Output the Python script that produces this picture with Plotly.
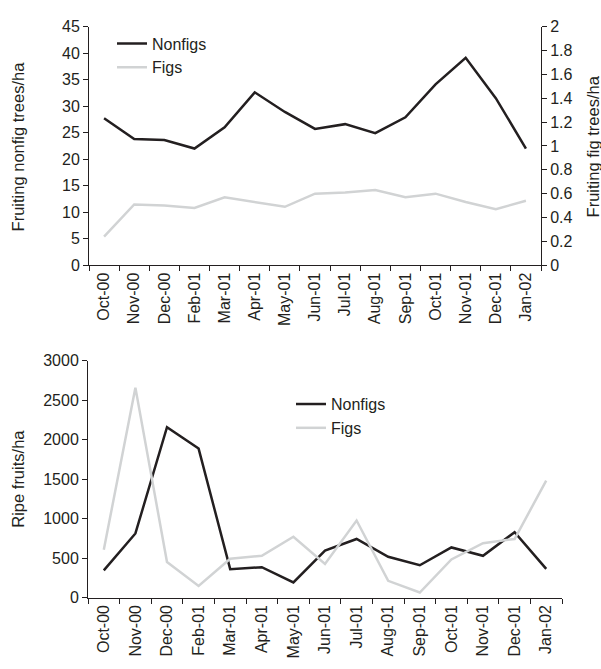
import plotly.graph_objects as go

# Sampling months
months = ["Oct-00", "Nov-00", "Dec-00", "Feb-01", "Mar-01", "Apr-01", "May-01",
          "Jun-01", "Jul-01", "Aug-01", "Sep-01", "Oct-01", "Nov-01", "Dec-01", "Jan-02"]

# Fruiting trees per hectare
trees_nonfig = [27.7, 23.8, 23.6, 22.0, 26.0, 32.6, 28.9, 25.7, 26.6, 24.9, 27.9, 34.1, 39.1, 31.5, 22.0]
trees_fig = [0.24, 0.51, 0.50, 0.48, 0.57, 0.53, 0.49, 0.60, 0.61, 0.63, 0.57, 0.60, 0.53, 0.47, 0.54]

# Ripe fruits per hectare
fruits_nonfig = [345, 813, 2159, 1888, 361, 386, 192, 595, 743, 517, 410, 636, 530, 829, 365]
fruits_fig = [607, 2660, 451, 148, 493, 530, 771, 426, 977, 213, 65, 484, 690, 743, 1482]

W, H = 601, 669
DARK = "#231f20"
LIGHT = "#d1d3d4"
FONT = "Liberation Sans, Arial, sans-serif"
FS_TICK = 16
FS_TITLE = 16.5
FS_LEG = 16


def px_x(v):
    return v / W


def px_y(v):
    return 1 - v / H


fig = go.Figure()

fig.add_trace(go.Scatter(x=months, y=trees_nonfig, name="Nonfigs", mode="lines",
                         line=dict(color=DARK, width=2.5), xaxis="x", yaxis="y",
                         legend="legend"))
fig.add_trace(go.Scatter(x=months, y=trees_fig, name="Figs", mode="lines",
                         line=dict(color=LIGHT, width=2.5), xaxis="x", yaxis="y2",
                         legend="legend"))
fig.add_trace(go.Scatter(x=months, y=fruits_nonfig, name="Nonfigs", mode="lines",
                         line=dict(color=DARK, width=2.5), xaxis="x2", yaxis="y3",
                         legend="legend2"))
fig.add_trace(go.Scatter(x=months, y=fruits_fig, name="Figs", mode="lines",
                         line=dict(color=LIGHT, width=2.5), xaxis="x2", yaxis="y3",
                         legend="legend2"))

axis_style = dict(showline=True, linecolor=DARK, linewidth=1, ticks="outside",
                  ticklen=5, tickcolor=DARK, tickwidth=1, showgrid=False,
                  zeroline=False, tickfont=dict(family=FONT, size=FS_TICK, color=DARK))

xcat = dict(type="category", categoryorder="array", categoryarray=months,
            tickson="boundaries", tickangle=-90, range=[-0.5, len(months) - 0.5])


def ytitle(text, x, y):
    return dict(text=text, x=px_x(x), y=px_y(y), xref="paper", yref="paper",
                xanchor="center", yanchor="middle", textangle=-90,
                showarrow=False, font=dict(size=FS_TITLE, color=DARK))


fig.update_layout(
    width=W, height=H,
    margin=dict(l=0, r=0, t=0, b=0),
    paper_bgcolor="white", plot_bgcolor="white",
    font=dict(family=FONT, size=FS_TICK, color=DARK),
    xaxis=dict(domain=[px_x(89), px_x(541)], anchor="y", **xcat, **axis_style),
    yaxis=dict(domain=[px_y(264), px_y(19)], anchor="x", range=[0, 45], dtick=5,
               **axis_style),
    yaxis2=dict(overlaying="y", side="right", anchor="x", range=[0, 2], dtick=0.2,
                **axis_style),
    xaxis2=dict(domain=[px_x(88), px_x(562)], anchor="y3", **xcat, **axis_style),
    yaxis3=dict(domain=[px_y(605), px_y(362)], anchor="x2", range=[0, 3000], dtick=500,
                **axis_style),
    legend=dict(x=px_x(112), y=px_y(19), xanchor="left", yanchor="top",
                bgcolor="rgba(0,0,0,0)", font=dict(size=FS_LEG, color=DARK)),
    legend2=dict(x=px_x(291), y=px_y(389), xanchor="left", yanchor="top",
                 bgcolor="rgba(0,0,0,0)", font=dict(size=FS_LEG, color=DARK)),
    annotations=[
        ytitle("Fruiting nonfig trees/ha", 18, 142),
        ytitle("Fruiting fig trees/ha", 593, 142),
        ytitle("Ripe fruits/ha", 18, 483),
    ],
)

fig.write_html("out.html")
